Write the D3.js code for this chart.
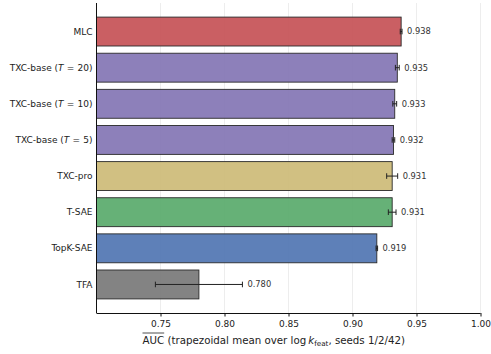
<!DOCTYPE html>
<html>
<head>
<meta charset="utf-8">
<script src="https://cdn.jsdelivr.net/npm/d3@7"></script>
<style>
  body { margin: 0; background: #fff; }
  svg { display: block; font-family: "DejaVu Sans", sans-serif; }
</style>
</head>
<body>
<svg id="chart" width="491" height="354"></svg>
<script>
// Models, top to bottom
const models = ["MLC", "TXC-base (T=20)", "TXC-base (T=10)", "TXC-base (T=5)", "TXC-pro", "T-SAE", "TopK-SAE", "TFA"];
// Mean AUC over seeds
const aucMean = [0.938, 0.935, 0.933, 0.932, 0.931, 0.931, 0.919, 0.780];
// Spread across seeds (half-width of the error bar)
const aucErr = [0.0007, 0.0015, 0.0015, 0.0010, 0.0043, 0.0030, 0.0006, 0.034];
const barColors = ["#C44E52", "#8172B3", "#8172B3", "#8172B3", "#CCB974", "#55A868", "#4C72B0", "#767676"];
const xTicks = [0.75, 0.80, 0.85, 0.90, 0.95, 1.00];

const svg = d3.select("#chart");
const plotL = 96.5, plotR = 480.5, plotT = 3, plotB = 313;

const x = d3.scaleLinear().domain([0.70, 1.00]).range([plotL, plotR]);
// barh-style index axis with 0.4 half-height bars and 5% margins
const y = d3.scaleLinear().domain([-0.79, 7.79]).range([plotT, plotB]);
const barH = y(0.4) - y(-0.4);

// vertical grid
svg.append("g").selectAll("line").data(xTicks).join("line")
  .attr("x1", d => x(d)).attr("x2", d => x(d))
  .attr("y1", plotT).attr("y2", plotB)
  .attr("stroke", "#ebebeb").attr("stroke-width", 0.9);

// bars
svg.append("g").selectAll("rect").data(models).join("rect")
  .attr("x", x(0.70))
  .attr("y", (d, i) => y(i) - barH / 2)
  .attr("width", (d, i) => x(aucMean[i]) - x(0.70))
  .attr("height", barH)
  .attr("fill", (d, i) => barColors[i])
  .attr("fill-opacity", 0.9)
  .attr("stroke", "#2a2a2a")
  .attr("stroke-width", 0.9);

// error bars
const eb = svg.append("g").attr("stroke", "#222").attr("stroke-width", 1);
models.forEach((m, i) => {
  const cy = y(i), x0 = x(aucMean[i] - aucErr[i]), x1 = x(aucMean[i] + aucErr[i]);
  eb.append("line").attr("x1", x0).attr("x2", x1).attr("y1", cy).attr("y2", cy);
  eb.append("line").attr("x1", x0).attr("x2", x0).attr("y1", cy - 2.8).attr("y2", cy + 2.8);
  eb.append("line").attr("x1", x1).attr("x2", x1).attr("y1", cy - 2.8).attr("y2", cy + 2.8);
});

// value labels
svg.append("g").selectAll("text").data(models).join("text")
  .attr("x", (d, i) => x(aucMean[i] + aucErr[i]) + 5)
  .attr("y", (d, i) => y(i))
  .attr("dy", "0.35em")
  .attr("font-size", 8.3)
  .attr("fill", "#333")
  .text((d, i) => aucMean[i].toFixed(3));

// y-axis labels (T rendered italic)
const yl = svg.append("g").selectAll("text").data(models).join("text")
  .attr("x", plotL - 4)
  .attr("y", (d, i) => y(i))
  .attr("dy", "0.35em")
  .attr("text-anchor", "end")
  .attr("font-size", 9)
  .attr("fill", "#222");
yl.each(function(d) {
  const t = d3.select(this);
  const m = d.match(/^(.*\()T=(\d+)\)$/);
  if (m) {
    t.append("tspan").text(m[1]);
    t.append("tspan").attr("font-style", "italic").text("T");
    t.append("tspan").attr("dx", 3.2).text("=");
    t.append("tspan").attr("dx", 3.2).text(m[2] + ")");
  } else {
    t.text(d);
  }
});

// axes spines
svg.append("line").attr("x1", plotL).attr("x2", plotL).attr("y1", plotT).attr("y2", plotB)
  .attr("stroke", "#111").attr("stroke-width", 1);
const xAxis = svg.append("g").attr("transform", `translate(0,${plotB})`)
  .call(d3.axisBottom(x).tickValues(xTicks).tickFormat(d3.format(".2f")).tickSize(3.5).tickPadding(4));
xAxis.select(".domain").attr("stroke", "#111").attr("d", `M${plotL},0.5H${plotR}`);
xAxis.selectAll(".tick line").attr("stroke", "#111");
xAxis.selectAll(".tick text").attr("font-size", 9).attr("fill", "#222")
  .attr("font-family", "DejaVu Sans, sans-serif");

// x-axis title with overlined AUC and subscripted k
const xt = svg.append("text")
  .attr("x", 142.5).attr("y", 344)
  .attr("text-anchor", "start").attr("font-size", 10.25).attr("fill", "#222");
const aucSpan = xt.append("tspan").text("AUC");
xt.append("tspan").text(" (trapezoidal mean over log\u2009");
xt.append("tspan").attr("font-style", "italic").text("k");
xt.append("tspan").attr("font-size", 7.2).attr("dy", 2).text("feat");
xt.append("tspan").attr("dy", -2).text(", seeds 1/2/42)");
const aucW = aucSpan.node().getComputedTextLength();
svg.append("line")
  .attr("x1", 142.5).attr("x2", 142.5 + aucW)
  .attr("y1", 333).attr("y2", 333)
  .attr("stroke", "#222").attr("stroke-width", 0.8);
</script>
</body>
</html>
